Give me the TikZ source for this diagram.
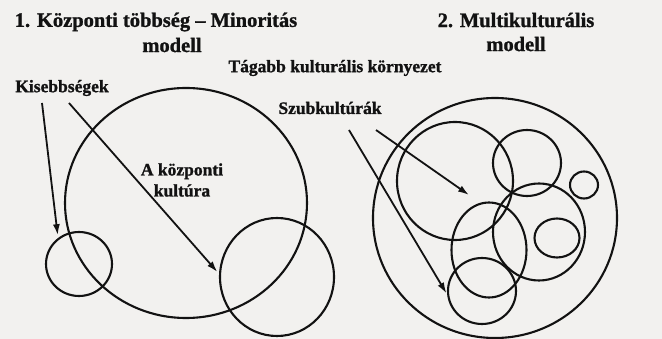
\documentclass[tikz,border=0pt]{standalone}
\usepackage{fontspec}
\setmainfont{Liberation Serif}[BoldFeatures={FakeBold=1.2}]
\usetikzlibrary{positioning}
\usetikzlibrary{arrows.meta, shapes.geometric}
\definecolor{paper}{RGB}{242,241,239}
\definecolor{ink}{RGB}{18,18,18}

\begin{document}
\begin{tikzpicture}[x=1pt, y=-1pt,
    ring/.style={ellipse, draw=ink, line width=2.1pt, inner sep=0pt, outer sep=0pt},
    title/.style={text=ink, font=\fontsize{20.5}{24}\selectfont\bfseries, inner sep=0pt},
    txt/.style={text=ink, font=\fontsize{17.5}{21}\selectfont\bfseries, inner sep=0pt},
    pointer/.style={draw=ink, line width=1.8pt, -{Latex[length=11pt, width=7pt]}, shorten >=4pt}]

    % Háttér és a kép mérete
    \fill[paper] (0,0) rectangle (662,339);
    \useasboundingbox (0,0) rectangle (662,339);

    % Címek
    \node[title] (cim1) at (156,22) {1. Központi többség – Minoritás};
    \node[title] (cim1b) at (172,45) {modell};
    \node[title, align=center] (cim2) at (516,32) {2. Multikulturális\\modell};

    % Feliratok
    \node[txt] (tagabb) at (335,68) {Tágabb kulturális környezet};
    \node[txt] (kisebb) at (62,88) {Kisebbségek};
    \node[txt] (szub) at (330,108) {Szubkultúrák};
    \node[txt, align=center] (kozp) at (182,180) {A központi\\kultúra};

    % Bal oldali modell: központi kultúra és a kisebbségek
    \node[ring, minimum width=242pt, minimum height=230pt] (fokultura) at (186,203) {};
    \node[ring, minimum width=66pt, minimum height=64pt] (kisebbA) at (79,264) {};
    \node[ring, minimum width=114pt, minimum height=118pt] (kisebbB) at (277,277) {};

    % Jobb oldali modell: tágabb környezet és a szubkultúrák
    \node[ring, minimum width=244pt, minimum height=240pt] (kornyezet) at (495,218) {};
    \node[ring, minimum width=116pt, minimum height=118pt] (sub1) at (455,181) {};
    \node[ring, minimum width=68pt, minimum height=66pt] (sub2) at (527,163) {};
    \node[ring, minimum width=28pt, minimum height=27pt] (sub3) at (584,185) {};
    \node[ring, minimum width=92pt, minimum height=97pt] (sub4) at (539,232) {};
    \node[ring, minimum width=45pt, minimum height=39pt] (sub5) at (557,238) {};
    \node[ring, minimum width=75pt, minimum height=95pt] (sub6) at (489,250) {};
    \node[ring, minimum width=68pt, minimum height=66pt] (sub7) at (482,291) {};

    % Nyilak a feliratoktól
    \coordinate (k1) at (42,103);
    \coordinate (k2) at (69,103);
    \coordinate (s1) at (376,130);
    \coordinate (s2) at (349,130);
    \coordinate (csucs) at (469,195);
    \draw[pointer] (k1) -- (kisebbA.130);
    \draw[pointer] (k2) -- (kisebbB.178);
    \draw[pointer, shorten >=0pt] (s1) -- (csucs);
    \draw[pointer] (s2) -- (sub7.190);

\end{tikzpicture}
\end{document}
